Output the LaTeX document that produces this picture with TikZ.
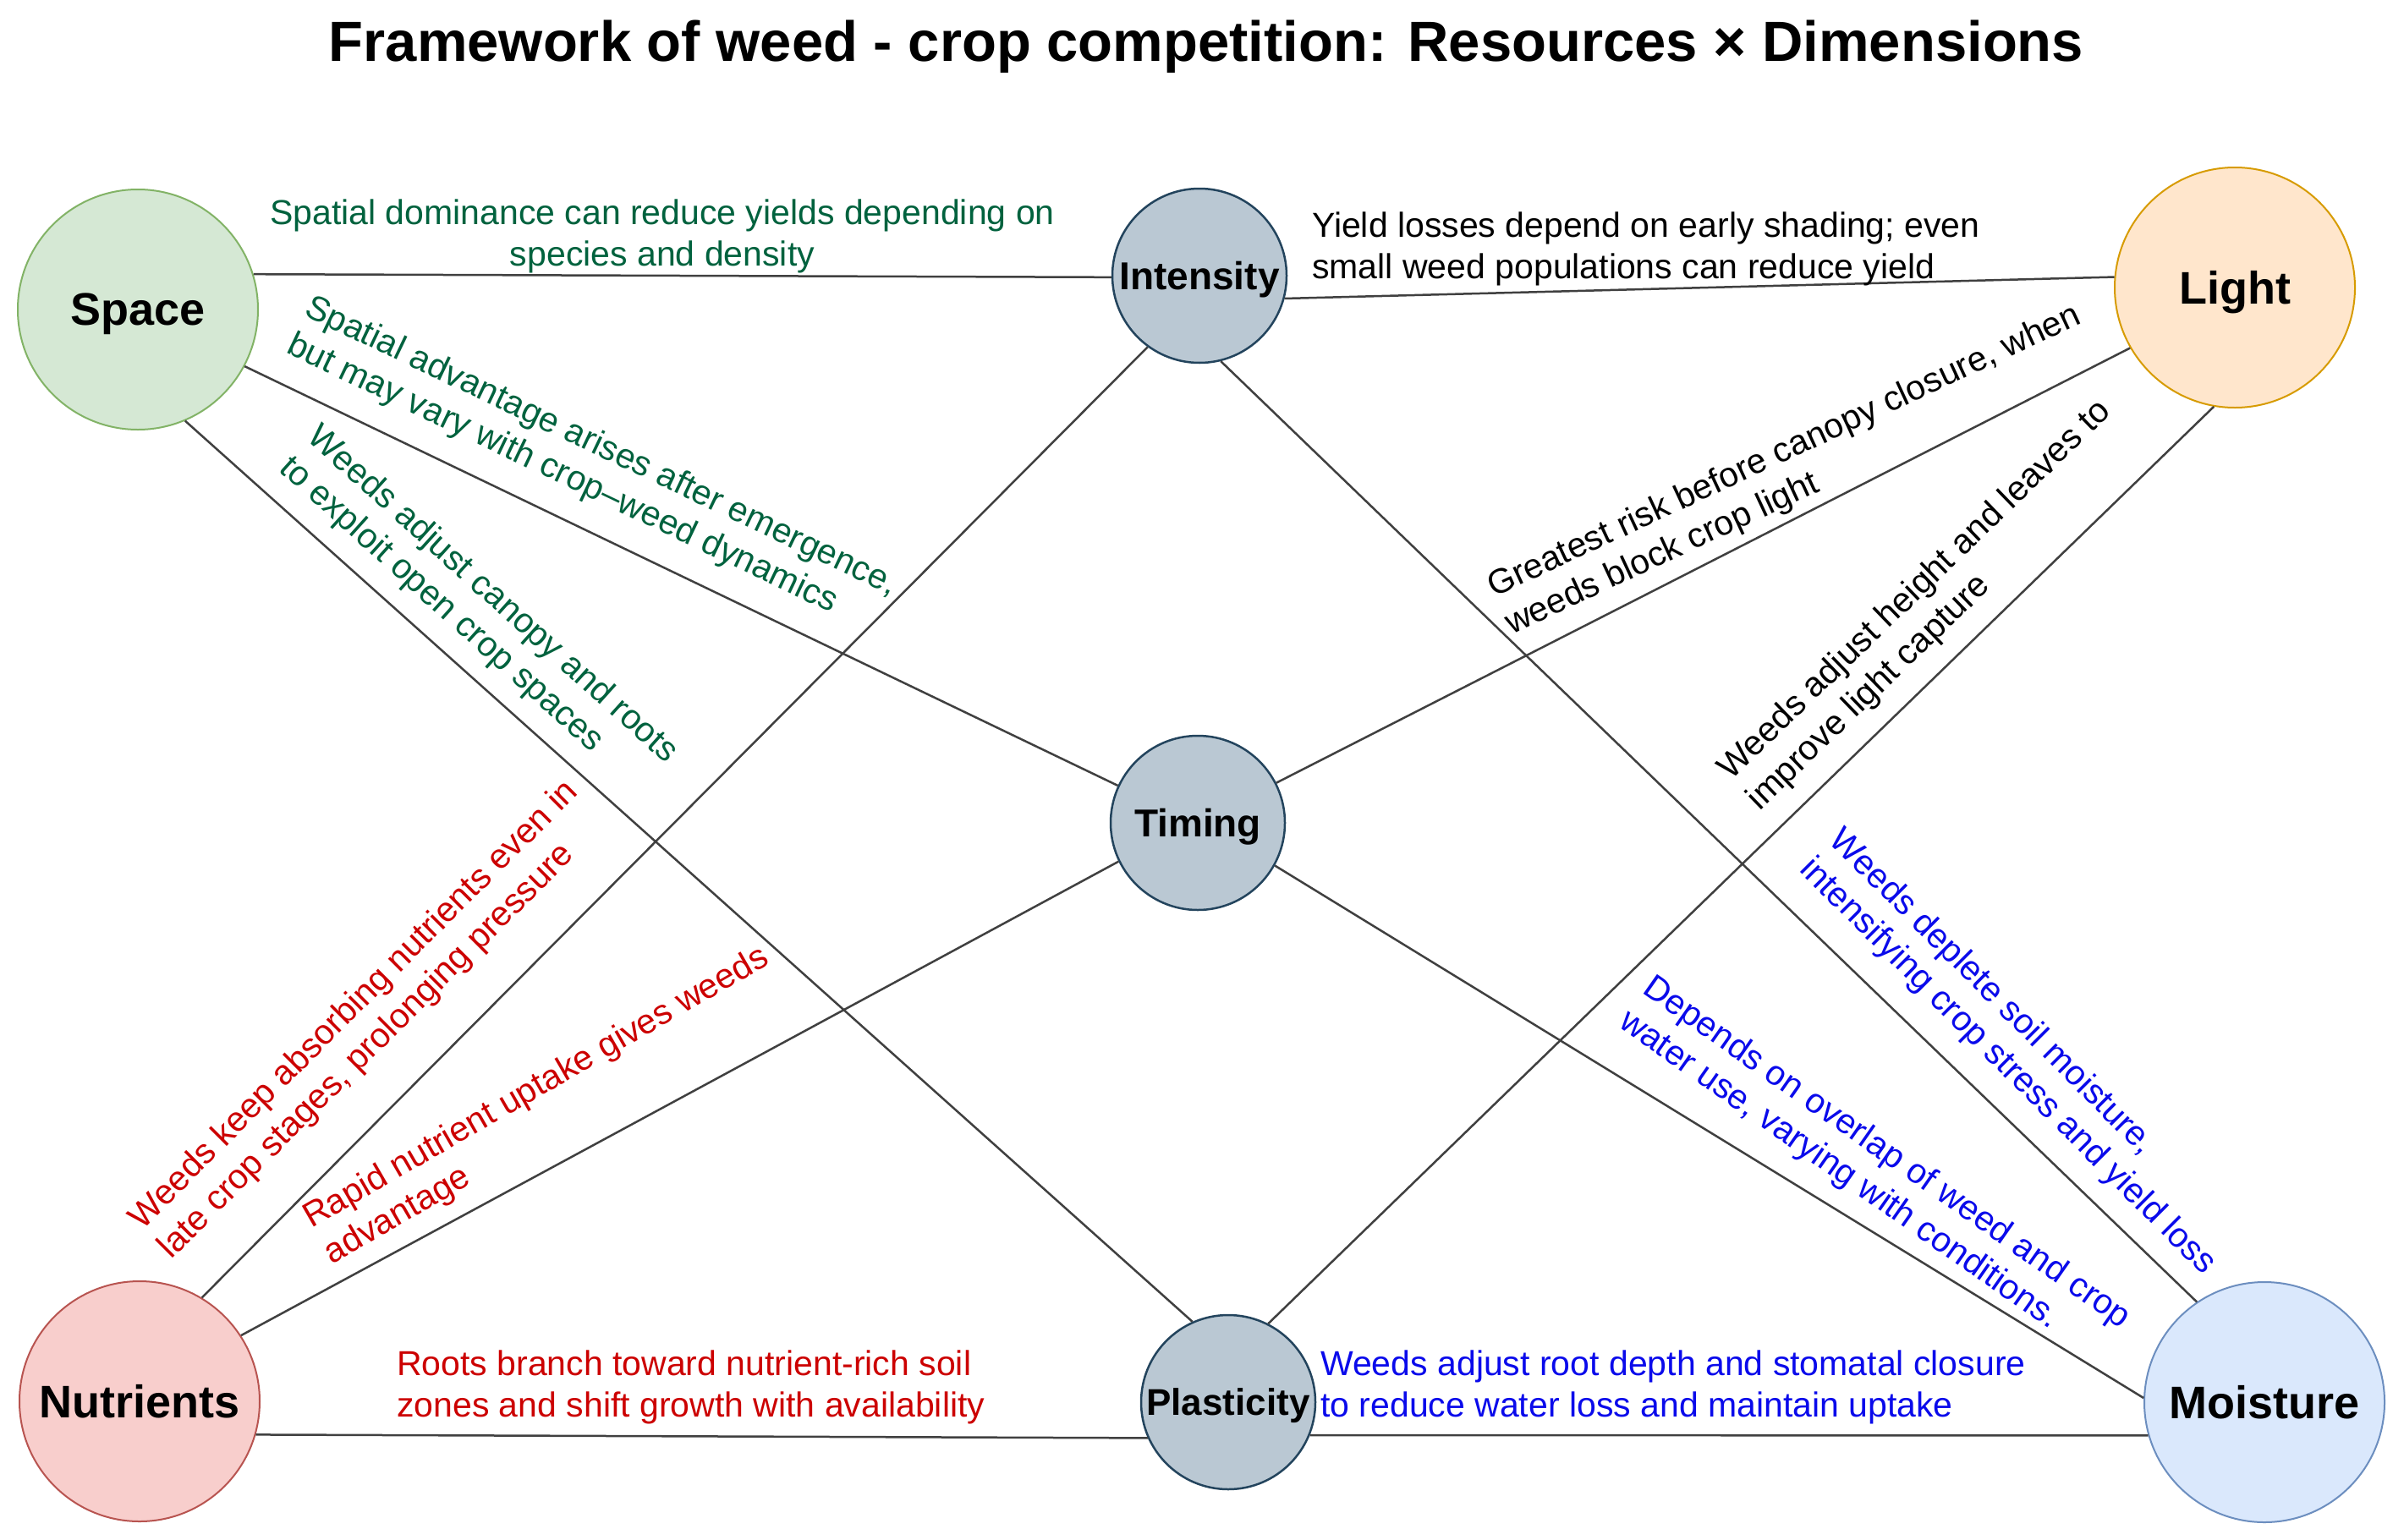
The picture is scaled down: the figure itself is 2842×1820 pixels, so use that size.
\documentclass[tikz,border=0pt]{standalone}
\usepackage{fontspec}
\setmainfont{Liberation Sans}
\definecolor{spacefill}{HTML}{D5E8D4}\definecolor{spacedraw}{HTML}{82B366}
\definecolor{lightfill}{HTML}{FFE6CC}\definecolor{lightdraw}{HTML}{D79B00}
\definecolor{nutrfill}{HTML}{F8CECC}\definecolor{nutrdraw}{HTML}{B85450}
\definecolor{moistfill}{HTML}{DAE8FC}\definecolor{moistdraw}{HTML}{6C8EBF}
\definecolor{dimfill}{HTML}{BAC8D3}\definecolor{dimdraw}{HTML}{23445D}
\definecolor{txtgreen}{RGB}{0,98,62}
\definecolor{txtred}{RGB}{204,0,0}
\definecolor{txtblue}{RGB}{10,10,235}
\definecolor{linegray}{RGB}{64,64,64}
\begin{document}
\begin{tikzpicture}[x=1pt,y=-1pt,
  resnode/.style={circle,minimum size=284pt,inner sep=0pt,text depth=0pt,line width=2pt,font=\fontsize{54}{60}\selectfont\bfseries},
  dimnode/.style={circle,minimum size=206pt,inner sep=0pt,text depth=0pt,line width=2.5pt,draw=dimdraw,fill=dimfill,font=\fontsize{46}{52}\selectfont\bfseries},
  conn/.style={draw=linegray,line width=2.5pt},
  lbl/.style={font=\fontsize{41}{49}\selectfont,inner sep=0pt,align=left},
  lblc/.style={font=\fontsize{41}{49}\selectfont,inner sep=0pt,align=center}]
\useasboundingbox[fill=white] (0,0) rectangle (2842,1820);
% title
\node[anchor=base,inner sep=0pt,font=\fontsize{67}{75}\selectfont\bfseries] (title) at (1426,72) {Framework of weed - crop competition: Resources × Dimensions};
% resource nodes
\node[resnode,draw=spacedraw,fill=spacefill] (space) at (163,366) {Space};
\node[resnode,draw=lightdraw,fill=lightfill] (light) at (2642,340) {Light};
\node[resnode,draw=nutrdraw,fill=nutrfill] (nutr) at (165,1657) {Nutrients};
\node[resnode,draw=moistdraw,fill=moistfill] (moist) at (2677,1658) {Moisture};
% dimension nodes
\node[dimnode] (inten) at (1418,326) {Intensity};
\node[dimnode] (timing) at (1416,973) {Timing};
\node[dimnode,font=\fontsize{44}{50}\selectfont\bfseries] (plast) at (1452,1658) {Plasticity};
% connectors
\draw[conn] (space.17) -- (inten.181);
\draw[conn] (inten.-15) -- (light.175);
\draw[conn] (space.-28) -- (timing.155);
\draw[conn] (space.-67) -- (plast.114);
\draw[conn] (inten.-126) -- (nutr.59);
\draw[conn] (inten.-76) -- (moist.124);
\draw[conn] (timing.27) -- (light.-150);
\draw[conn] (timing.-154) -- (nutr.33);
\draw[conn] (timing.-29) -- (moist.178);
\draw[conn] (light.-100) -- (plast.63);
\draw[conn] (nutr.-16) -- (plast.-156);
\draw[conn] (plast.-22) -- (moist.-164);
% labels
\node[lblc,text=txtgreen] (l1) at (783,279) {Spatial dominance can reduce yields depending on\\species and density};
\node[lbl,anchor=west] (l2) at (1551,294) {Yield losses depend on early shading; even\\small weed populations can reduce yield};
\node[lbl,text=txtgreen,rotate=-25.5,anchor=west] (l3) at (352,385) {Spatial advantage arises after emergence,\\but may vary with crop–weed dynamics};
\node[lbl,text=txtgreen,rotate=-42,anchor=west] (l4) at (352,530) {Weeds adjust canopy and roots\\to exploit open crop spaces};
\node[lbl,text=txtred,rotate=45,anchor=west] (l5) at (178,1465) {Weeds keep absorbing nutrients even in\\late crop stages, prolonging pressure};
\node[lbl,text=txtred,rotate=30,anchor=west] (l6) at (375,1465) {Rapid nutrient uptake gives weeds\\advantage};
\node[lbl,rotate=25,anchor=west] (l7) at (1772,719) {Greatest risk before canopy closure, when\\weeds block crop light};
\node[lbl,rotate=44,anchor=west] (l8) at (2056,934) {Weeds adjust height and leaves to\\improve light capture};
\node[lbl,text=txtblue,rotate=-45,anchor=west] (l9) at (2151,1005) {Weeds deplete soil moisture,\\intensifying crop stress and yield loss};
\node[lbl,text=txtblue,rotate=-35,anchor=west] (l10) at (1932,1185) {Depends on overlap of weed and crop\\water use, varying with conditions.};
\node[lbl,text=txtred,anchor=west] (l11) at (469,1640) {Roots branch toward nutrient-rich soil\\zones and shift growth with availability};
\node[lbl,text=txtblue,anchor=west] (l12) at (1561,1640) {Weeds adjust root depth and stomatal closure\\to reduce water loss and maintain uptake};
\end{tikzpicture}
\end{document}
